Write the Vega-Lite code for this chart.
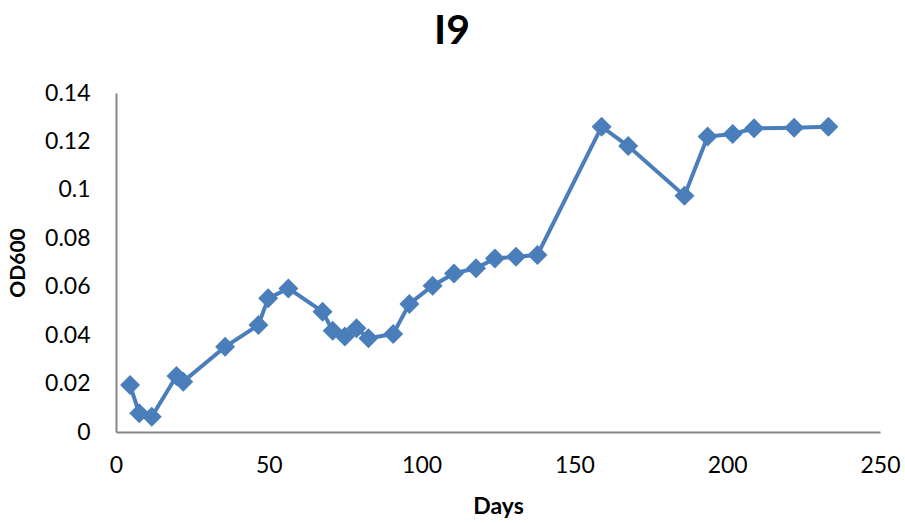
{
  "$schema": "https://vega.github.io/schema/vega-lite/v6.json",
  "width": 764,
  "height": 339,
  "autosize": "none",
  "padding": {"left": 116, "top": 93, "right": 25, "bottom": 91},
  "background": "white",
  "title": {"text": "I9", "font": "Lato", "fontSize": 41, "fontWeight": "bold", "color": "#000000", "anchor": "middle", "offset": 10, "baseline": "alphabetic", "dx": -46, "dy": 13},
  "config": {"view": {"stroke": null}},
  "data": {"values": [
    {"day": 4.6, "od": 0.0194},
    {"day": 7.6, "od": 0.0077},
    {"day": 11.7, "od": 0.0063},
    {"day": 19.8, "od": 0.0231},
    {"day": 22.0, "od": 0.0208},
    {"day": 35.7, "od": 0.0352},
    {"day": 46.6, "od": 0.0442},
    {"day": 49.8, "od": 0.0552},
    {"day": 56.4, "od": 0.0593},
    {"day": 67.6, "od": 0.0497},
    {"day": 70.9, "od": 0.0418},
    {"day": 74.9, "od": 0.0394},
    {"day": 78.7, "od": 0.0428},
    {"day": 82.6, "od": 0.0387},
    {"day": 90.7, "od": 0.0405},
    {"day": 96.0, "od": 0.0529},
    {"day": 103.6, "od": 0.0604},
    {"day": 110.6, "od": 0.0655},
    {"day": 117.8, "od": 0.0676},
    {"day": 124.0, "od": 0.0717},
    {"day": 130.9, "od": 0.0724},
    {"day": 137.9, "od": 0.0731},
    {"day": 158.9, "od": 0.1261},
    {"day": 167.6, "od": 0.1181},
    {"day": 186.0, "od": 0.0976},
    {"day": 193.6, "od": 0.1220},
    {"day": 201.8, "od": 0.1231},
    {"day": 208.8, "od": 0.1254},
    {"day": 221.9, "od": 0.1257},
    {"day": 233.1, "od": 0.1261}
  ]},
  "encoding": {
    "x": {"field": "day", "type": "quantitative", "scale": {"domain": [0, 250], "nice": false, "zero": false},
      "axis": {"title": "Days", "values": [0, 50, 100, 150, 200, 250], "grid": false, "ticks": false, "domainColor": "#868686", "domainWidth": 2, "labelFlush": false,
        "labelFont": "Lato", "labelFontSize": 23, "labelColor": "#000000", "labelPadding": 22,
        "titleFont": "Lato", "titleFontSize": 23, "titleFontWeight": "bold", "titleColor": "#000000", "titlePadding": 18}},
    "y": {"field": "od", "type": "quantitative", "scale": {"domain": [0, 0.14], "nice": false},
      "axis": {"title": "OD600", "values": [0, 0.02, 0.04, 0.06, 0.08, 0.1, 0.12, 0.14], "format": "~g", "grid": false, "ticks": false, "domainColor": "#868686", "domainWidth": 2, "labelFlush": false,
        "labelFont": "Lato", "labelFontSize": 23, "labelColor": "#000000", "labelPadding": 26,
        "titleFont": "Lato", "titleFontSize": 21, "titleFontWeight": "bold", "titleColor": "#000000", "titlePadding": 16}}
  },
  "layer": [
    {"mark": {"type": "line", "color": "#4A7EBB", "strokeWidth": 4}},
    {"mark": {"type": "point", "shape": "diamond", "filled": true, "color": "#4A7EBB", "opacity": 1, "size": 400}}
  ]
}
